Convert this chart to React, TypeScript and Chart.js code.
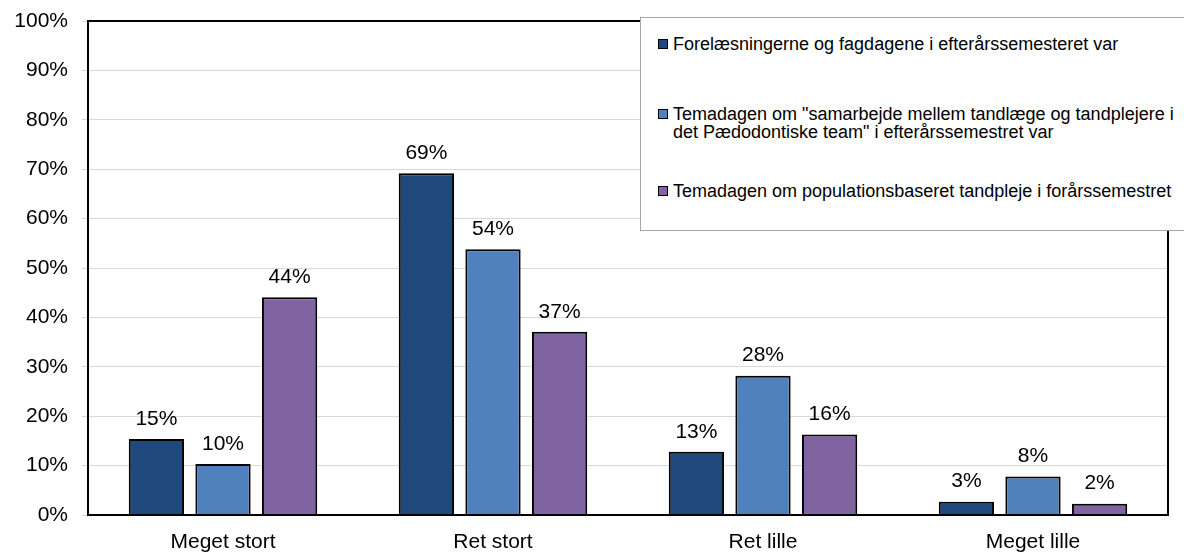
import React, { useEffect, useRef } from "react";
import { Chart, registerables } from "chart.js";

Chart.register(...registerables);

const categories = ["Meget stort", "Ret stort", "Ret lille", "Meget lille"];
const seriesNames = [
  "Forelæsningerne og fagdagene i efterårssemesteret var",
  'Temadagen om "samarbejde mellem tandlæge og tandplejere i det Pædodontiske team" i efterårssemestret var',
  "Temadagen om populationsbaseret tandpleje i forårssemestret",
];
const forelaesninger = [15.4, 69.2, 12.8, 2.7];
const samarbejde = [10.3, 53.8, 28.2, 7.8];
const population = [44.1, 37.1, 16.3, 2.3];
const valueLabels = [
  ["15%", "69%", "13%", "3%"],
  ["10%", "54%", "28%", "8%"],
  ["44%", "37%", "16%", "2%"],
];
const yTicks = [0, 10, 20, 30, 40, 50, 60, 70, 80, 90, 100];
const colors = ["#1F497D", "#4F81BD", "#8064A2"];

const FONT = "'Liberation Sans', Arial, Helvetica, sans-serif";

export default function App() {
  const ref = useRef<HTMLCanvasElement>(null);

  useEffect(() => {
    document.body.style.margin = "0";
    const labelPlugin = {
      id: "valueLabels",
      afterDatasetsDraw(chart: any) {
        const ctx = chart.ctx;
        ctx.save();
        ctx.font = `21px ${FONT}`;
        ctx.fillStyle = "#000";
        ctx.textAlign = "center";
        ctx.textBaseline = "middle";
        chart.data.datasets.forEach((ds: any, i: number) => {
          const meta = chart.getDatasetMeta(i);
          meta.data.forEach((bar: any, j: number) => {
            ctx.fillText(valueLabels[i][j], bar.x, bar.y - 20);
          });
        });
        ctx.restore();
      },
    };
    const borderPlugin = {
      id: "areaBorder",
      afterDatasetsDraw(chart: any) {
        const { left, right, top, bottom } = chart.chartArea;
        const ctx = chart.ctx;
        ctx.save();
        ctx.strokeStyle = "#000";
        ctx.lineWidth = 2;
        ctx.strokeRect(left, top, right - left, bottom - top);
        ctx.restore();
      },
    };
    const chart = new Chart(ref.current!, {
      type: "bar",
      data: {
        labels: categories,
        datasets: [forelaesninger, samarbejde, population].map((d, i) => ({
          label: seriesNames[i],
          data: d,
          backgroundColor: colors[i],
          borderColor: "#000",
          borderWidth: 2,
          categoryPercentage: 0.74,
          barPercentage: 0.83,
        })),
      },
      options: {
        animation: false,
        responsive: false,
        maintainAspectRatio: false,
        layout: { padding: { top: 21, right: 16, left: 0, bottom: 0 } },
        plugins: { legend: { display: false }, tooltip: { enabled: false } },
        scales: {
          x: {
            grid: { display: false, drawTicks: false },
            border: { display: false },
            ticks: { font: { family: FONT, size: 21 }, color: "#000", padding: 15 },
            afterFit(scale: any) {
              scale.height = 38;
              scale.paddingLeft = 0;
              scale.paddingRight = 0;
            },
          },
          y: {
            min: 0,
            max: 100,
            afterBuildTicks(scale: any) {
              scale.ticks = yTicks.map((v) => ({ value: v }));
            },
            grid: { color: "#d9d9d9", lineWidth: 1, tickLength: 6 },
            border: { display: false },
            ticks: {
              font: { family: FONT, size: 21 },
              color: "#000",
              padding: 14,
              callback: (v: any) => `${v}%`,
            },
            afterFit(scale: any) {
              scale.width = 88;
              scale.paddingTop = 0;
              scale.paddingBottom = 0;
            },
          },
        },
      },
      plugins: [labelPlugin, borderPlugin],
    });
    return () => chart.destroy();
  }, []);

  const itemStyle: React.CSSProperties = {
    position: "absolute",
    left: 17,
    right: 4,
    fontFamily: FONT,
    fontSize: 18,
    lineHeight: "18px",
    color: "#000",
    paddingLeft: 15,
    whiteSpace: "nowrap",
  };
  const marker = (c: string): React.CSSProperties => ({
    position: "absolute",
    left: 0,
    top: 4,
    width: 8,
    height: 8,
    background: c,
    border: "1px solid #000",
  });

  return (
    <div style={{ position: "absolute", left: 0, top: 0, width: 1184, height: 553, background: "#fff" }}>
      <canvas ref={ref} width={1184} height={553} style={{ display: "block" }} />
      <div
        style={{
          position: "absolute",
          left: 640,
          top: 17,
          width: 544,
          height: 214,
          boxSizing: "border-box",
          background: "#fff",
          border: "1px solid #a6a6a6",
          borderRight: "none",
        }}
      >
        <div style={{ ...itemStyle, top: 17 }}>
          <span style={marker(colors[0])} />
          {seriesNames[0]}
        </div>
        <div style={{ ...itemStyle, top: 87 }}>
          <span style={marker(colors[1])} />
          Temadagen om "samarbejde mellem tandlæge og tandplejere i
          <br />
          det Pædodontiske team" i efterårssemestret var
        </div>
        <div style={{ ...itemStyle, top: 164 }}>
          <span style={marker(colors[2])} />
          {seriesNames[2]}
        </div>
      </div>
    </div>
  );
}
